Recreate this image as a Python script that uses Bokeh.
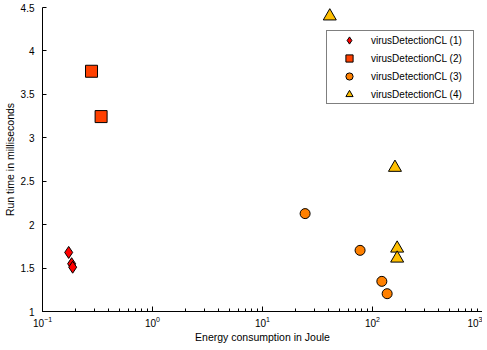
from bokeh.plotting import figure
from bokeh.models import Range1d, FixedTicker, LogTicker, CustomJSTickFormatter, Legend, LegendItem
from bokeh.embed import file_html
from bokeh.resources import INLINE

# Data (energy in Joule, run time in ms)
s1_x = [0.173, 0.184, 0.188]
s1_y = [1.68, 1.55, 1.51]
s2_x = [0.279, 0.341]
s2_y = [3.766, 3.244]
s3_x = [24.4, 77.1, 121.6, 135.9]
s3_y = [2.127, 1.704, 1.347, 1.205]
s4_x = [40.9, 160.0, 167.6, 167.6]
s4_y = [4.40, 2.657, 1.727, 1.612]

labels = ["virusDetectionCL (1)", "virusDetectionCL (2)",
          "virusDetectionCL (3)", "virusDetectionCL (4)"]
y_ticks = [1, 1.5, 2, 2.5, 3, 3.5, 4, 4.5]

FONT = "Liberation Sans"

p = figure(width=482, height=345, x_axis_type="log",
           x_range=Range1d(0.1, 1000), y_range=Range1d(1, 4.5),
           output_backend="svg", toolbar_location=None,
           min_border_left=37, min_border_right=0,
           min_border_top=7, min_border_bottom=0)
p.grid.visible = False
p.outline_line_color = None
p.background_fill_color = "white"
p.border_fill_color = "white"

r1 = p.scatter(s1_x, s1_y, marker="diamond", size=12,
               fill_color="#FF0000", line_color="black", line_width=1)
r2 = p.scatter(s2_x, s2_y, marker="square", size=12,
               fill_color="#FF4000", line_color="black", line_width=1)
r3 = p.scatter(s3_x, s3_y, marker="circle", size=10,
               fill_color="#FF8000", line_color="black", line_width=1)
r4 = p.scatter(s4_x, s4_y, marker="triangle", size=13,
               fill_color="#FFBF00", line_color="black", line_width=1)

# x axis
xa = p.xaxis[0]
xa.ticker = LogTicker(num_minor_ticks=10)
xa.axis_label = "Energy consumption in Joule"
xa.major_tick_in = 5
xa.major_tick_out = 0
xa.minor_tick_in = 3
xa.minor_tick_out = 0
xa.major_label_standoff = 4
xa.axis_label_standoff = 1

# y axis
ya = p.yaxis[0]
ya.ticker = FixedTicker(ticks=y_ticks, minor_ticks=[])
ya.formatter = CustomJSTickFormatter(code="return String(tick);")
ya.axis_label = "Run time in milliseconds"
ya.major_tick_in = 4
ya.major_tick_out = 0
ya.minor_tick_in = 0
ya.minor_tick_out = 0
ya.major_label_standoff = 8
ya.axis_label_standoff = 2

for ax in (xa, ya):
    ax.axis_line_color = "black"
    ax.axis_line_width = 1
    ax.major_tick_line_color = "black"
    ax.minor_tick_line_color = "black"
    ax.major_label_text_font = FONT
    ax.major_label_text_font_size = "10px"
    ax.major_label_text_color = "black"
    ax.axis_label_text_font = FONT
    ax.axis_label_text_font_size = "10.5px"
    ax.axis_label_text_font_style = "normal"
    ax.axis_label_text_color = "black"

legend = Legend(items=[LegendItem(label=labels[0], renderers=[r1]),
                       LegendItem(label=labels[1], renderers=[r2]),
                       LegendItem(label=labels[2], renderers=[r3]),
                       LegendItem(label=labels[3], renderers=[r4])],
                location=(284, 207))
legend.border_line_color = "black"
legend.border_line_width = 1
legend.background_fill_color = "white"
legend.background_fill_alpha = 1
legend.label_text_font = FONT
legend.label_text_font_size = "10px"
legend.label_text_color = "black"
legend.label_height = 18
legend.glyph_height = 18
legend.glyph_width = 44
legend.spacing = 0
legend.padding = (0, 11, 0, 0)
legend.label_standoff = 0
legend.margin = 0
p.add_layout(legend, "center")

open("out.html", "w").write(file_html(p, INLINE))
